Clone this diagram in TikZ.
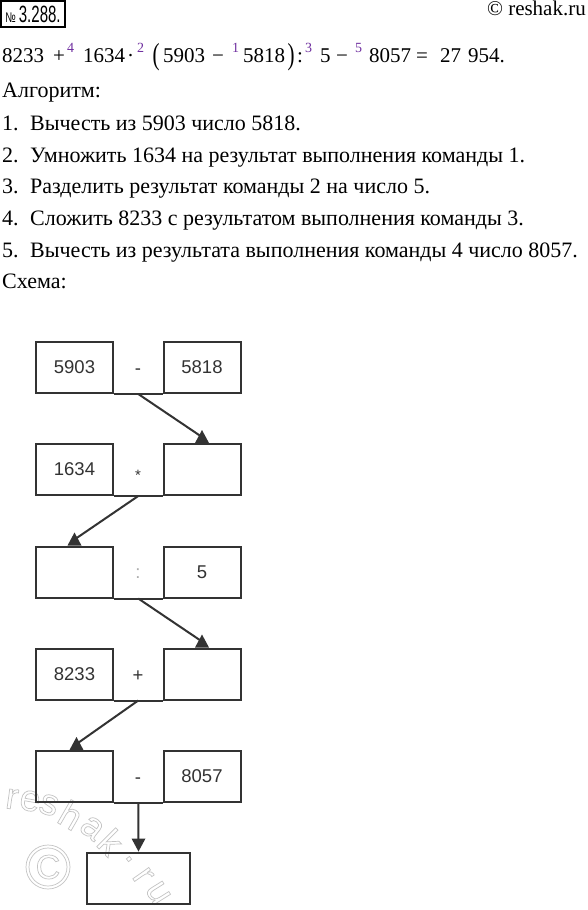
\documentclass[tikz,border=0pt]{standalone}
\usepackage{fontspec}
\setmainfont{Liberation Serif}
\newfontfamily\diagfont{Liberation Sans}
\usetikzlibrary{calc}
\definecolor{ink}{HTML}{333333}
\definecolor{supc}{HTML}{7030A0}
\definecolor{wmc}{HTML}{C4C4C4}
\newcommand\supn[1]{\raisebox{10pt}{\textcolor{supc}{\fontsize{14}{14}\selectfont #1}}}
\newcommand\outl[1]{\special{pdf:literal direct 1 Tr 0.7 w}#1\special{pdf:literal direct 0 Tr}}
\newcommand\uptri[1]{\fill[ink] ($(#1)+(-7,0)$) -- ($(#1)+(7,0)$) -- ($(#1)+(0,-13)$) -- cycle;}
\tikzset{
  boxst/.style={draw=ink, line width=2pt, minimum width=77pt, minimum height=51pt, inner sep=0pt,
    text=ink, font=\diagfont\fontsize{18.5}{18.5}\selectfont},
  opst/.style={anchor=base, inner sep=0pt, text=ink, font=\diagfont\fontsize{18.5}{18.5}\selectfont},
  conn/.style={draw=ink, line width=2pt},
  txt/.style={anchor=base west, inner sep=0pt, font=\fontsize{22}{22}\selectfont},
  eqt/.style={anchor=base west, inner sep=0pt, font=\fontsize{21}{21}\selectfont},
  wm/.style={inner sep=0pt, text=wmc, font=\diagfont\fontsize{37}{37}\selectfont}
}
\begin{document}
\begin{tikzpicture}[x=1pt, y=-1pt]
\useasboundingbox (0,0) rectangle (588,910);
\fill[white] (0,0) rectangle (588,910);

% watermark (behind)
\foreach \px/\py/\rt/\ch [count=\i] in {12/799/-8/r, 30/801/-10/e, 49/805/-18/s, 71/815/-30/h, 92/828/-38/a, 111/842/-45/k, 129/859/-52/., 143/876/-55/r, 158/893/-58/u}
  \node[wm, rotate=\rt] (w\i) at (\px,\py) {\outl{\ch}};
\draw[wmc, line width=0.7pt] (48,867) circle (22) (48,867) circle (19);
\node[wm, font=\diagfont\fontsize{34}{34}\selectfont] (wc) at (48,867) {\outl{C}};

% header
\node[draw=black, line width=1.5pt, minimum width=64pt, minimum height=26pt, inner sep=0pt] (num) at (33,14)
  {\diagfont\scalebox{0.7}[1]{\fontsize{14}{14}\selectfont №}\hspace{3pt}\scalebox{0.64}[1]{\fontsize{23.5}{23.5}\selectfont 3.288.}};
\node[anchor=base east, inner sep=0pt, font=\fontsize{21}{21}\selectfont] (copy) at (586,16) {© reshak.ru};

% equation
\foreach \px/\t [count=\i] in {2/8233, 53/+, 67/\supn{4}, 83/1634, 127/·, 137/\supn{2}, 163/5903, 212/−, 232/\supn{1}, 243/5818, 297/:, 305/\supn{3}, 320/5, 336/−, 355/\supn{5}, 369/8057, 416/=, 440/27, 468/954.}
  \node[eqt] (e\i) at (\px,62) {\t};
\node[anchor=center, inner sep=0pt, font=\fontsize{21}{21}\selectfont] (pl) at (156,57) {\scalebox{1}[1.45]{(}};
\node[anchor=center, inner sep=0pt, font=\fontsize{21}{21}\selectfont] (pr) at (291,57) {\scalebox{1}[1.45]{)}};

% algorithm text
\node[txt] (alg) at (2,97) {Алгоритм:};
\node[txt] (n1) at (2,130) {1.};  \node[txt] (t1) at (30,130) {Вычесть из 5903 число 5818.};
\node[txt] (n2) at (2,162) {2.};  \node[txt] (t2) at (30,162) {Умножить 1634 на результат выполнения команды 1.};
\node[txt] (n3) at (2,193) {3.};  \node[txt] (t3) at (30,193) {Разделить результат команды 2 на число 5.};
\node[txt] (n4) at (2,225) {4.};  \node[txt] (t4) at (30,225) {Сложить 8233 с результатом выполнения команды 3.};
\node[txt] (n5) at (2,257) {5.};  \node[txt] (t5) at (30,257) {Вычесть из результата выполнения команды 4 число 8057.};
\node[txt] (sch) at (2,288) {Схема:};

% diagram
\node[boxst] (a1) at (74.5,367.5) {5903};  \node[boxst] (b1) at (202,367.5) {5818};
\node[boxst] (a2) at (74.5,469.5) {1634};  \node[boxst] (b2) at (202,469.5) {};
\node[boxst] (a3) at (74.5,572) {};        \node[boxst] (b3) at (202,572) {5};
\node[boxst] (a4) at (74.5,674) {8233};    \node[boxst] (b4) at (202,674) {};
\node[boxst] (a5) at (74.5,776.5) {};      \node[boxst] (b5) at (202,776.5) {8057};
\node[boxst, minimum width=103pt] (f) at (138.5,878) {};

\node[opst] (o1) at (138,374) {-};
\node[opst, font=\diagfont\fontsize{15}{15}\selectfont] (o2) at (138,480) {*};
\node[opst, text=ink!40] (o3) at (138,578) {:};
\node[opst] (o4) at (138,681) {+};
\node[opst] (o5) at (138,783) {-};

\foreach \k in {1,...,5} {
  \draw[conn] (a\k.south east) -- (b\k.south west);
  \coordinate (m\k) at ($(a\k.south east)!0.5!(b\k.south west)$);
}

\draw[conn] (m1) -- ($(b2.north)+(0,-6)$); \uptri{b2.north}
\draw[conn] (m2) -- ($(a3.north)+(0,-6)$); \uptri{a3.north}
\draw[conn] (m3) -- ($(b4.north)+(0,-6)$); \uptri{b4.north}
\draw[conn] (m4) -- ($(a5.north)+(2,-6)$); \uptri{$(a5.north)+(2,0)$}
\draw[conn] (m5) -- ($(f.north)+(0,-12)$);
\fill[ink] ($(f.north)+(-7,-13)$) -- ($(f.north)+(7,-13)$) -- (f.north) -- cycle;
\end{tikzpicture}
\end{document}
